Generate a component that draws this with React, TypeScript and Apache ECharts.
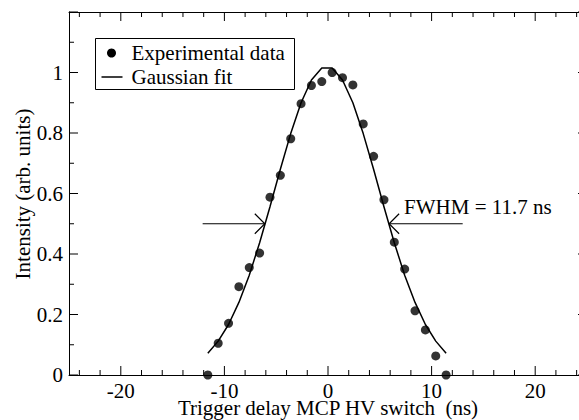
import { useEffect, useRef } from 'react';
import * as echarts from 'echarts';

// Measured pulse: trigger delay (ns) vs. normalised intensity
const delayNs = [
  -11.6, -10.6, -9.6, -8.6, -7.6, -6.6, -5.6, -4.6, -3.6, -2.6, -1.6, -0.6,
  0.4, 1.4, 2.4, 3.4, 4.4, 5.4, 6.4, 7.4, 8.4, 9.4, 10.4, 11.4,
];
const intensity = [
  0.0, 0.105, 0.171, 0.292, 0.355, 0.403, 0.588, 0.66, 0.781, 0.897, 0.957, 0.97,
  1.0, 0.983, 0.959, 0.83, 0.723, 0.579, 0.439, 0.35, 0.212, 0.149, 0.063, 0.0,
];
// Gaussian fit evaluated at the same delays
const fitIntensity = [
  0.072, 0.112, 0.167, 0.24, 0.33, 0.437, 0.556, 0.68, 0.798, 0.9, 0.975, 1.015,
  1.015, 0.975, 0.9, 0.798, 0.68, 0.556, 0.437, 0.33, 0.24, 0.167, 0.112, 0.072,
];

// Axis ranges and tick positions
const xRange = [-25, 25];
const yRange = [0, 1.2];
const xMajorTicks = [-20, -10, 0, 10, 20];
const xMinorTicks = [
  -24, -22, -18, -16, -14, -12, -8, -6, -4, -2, 2, 4, 6, 8, 12, 14, 16, 18, 22, 24,
];
const yMajorTicks = [0, 0.2, 0.4, 0.6, 0.8, 1, 1.2];
const yMinorTicks = [0.1, 0.3, 0.5, 0.7, 0.9, 1.1];
const yLabelledTicks = [0, 0.2, 0.4, 0.6, 0.8, 1];

// FWHM arrows: [shaft start, arrow tip] at half maximum
const halfMax = 0.5;
const fwhmArrows = [
  [-12.1, -6.1],
  [13.0, 5.9],
];
const fwhmLabel = 'FWHM = 11.7 ns';
const xTitle = 'Trigger delay MCP HV switch  (ns)';
const yTitle = 'Intensity (arb. units)';
const legendNames = ['Experimental data', 'Gaussian fit'];

const FONT = 'Liberation Serif';
const INK = '#000';

// tick kinds: 0 = x major, 1 = x minor, 2 = y major, 3 = y minor
const tickRows = [
  ...xMajorTicks.map((v) => [0, v]),
  ...xMinorTicks.map((v) => [1, v]),
  ...yMajorTicks.map((v) => [2, v]),
  ...yMinorTicks.map((v) => [3, v]),
];

export default function App() {
  const ref = useRef<HTMLDivElement>(null);

  useEffect(() => {
    if (!ref.current) return;
    const chart = echarts.init(ref.current, undefined, { renderer: 'svg' });

    const frameX = {
      type: 'value',
      min: xRange[0],
      max: xRange[1],
      splitLine: { show: false },
      axisTick: { show: false },
      axisLabel: { show: false },
      axisLine: { show: true, onZero: false, lineStyle: { color: INK, width: 1 } },
    };
    const frameY = {
      type: 'value',
      min: yRange[0],
      max: yRange[1],
      interval: 0.2,
      splitLine: { show: false },
      axisTick: { show: false },
      axisLabel: { show: false },
      axisLine: { show: true, onZero: false, lineStyle: { color: INK, width: 1 } },
    };

    const textStyle = (text: string, extra: any) => ({
      text,
      fontFamily: FONT,
      fontSize: 21,
      lineHeight: 18,
      fill: INK,
      ...extra,
    });

    chart.setOption({
      animation: false,
      textStyle: { fontFamily: FONT },
      grid: {
        left: 69,
        top: 12,
        width: 518,
        height: 363,
        outerBoundsMode: 'none',
      },
      graphic: [
        {
          type: 'text',
          x: 328,
          y: 408,
          style: textStyle(xTitle, { align: 'center', verticalAlign: 'middle' }),
        },
        {
          type: 'text',
          x: 23,
          y: 194,
          rotation: Math.PI / 2,
          style: textStyle(yTitle, { align: 'center', verticalAlign: 'middle' }),
        },
        {
          type: 'group',
          left: 95,
          top: 38,
          children: [
            {
              type: 'rect',
              shape: { x: 0, y: 0, width: 199, height: 51 },
              style: { fill: '#fff', stroke: INK, lineWidth: 1 },
            },
            {
              type: 'circle',
              shape: { cx: 16, cy: 14.5, r: 4.5 },
              style: { fill: INK },
            },
            {
              type: 'line',
              shape: { x1: 6, y1: 38.5, x2: 27, y2: 38.5 },
              style: { stroke: INK, lineWidth: 1.5 },
            },
            {
              type: 'text',
              x: 36,
              y: 14.5,
              style: textStyle(legendNames[0], { align: 'left', verticalAlign: 'middle' }),
            },
            {
              type: 'text',
              x: 36,
              y: 38.5,
              style: textStyle(legendNames[1], { align: 'left', verticalAlign: 'middle' }),
            },
          ],
        },
      ],
      xAxis: [
        { ...frameX, position: 'bottom' },
        { ...frameX, position: 'top' },
      ],
      yAxis: [
        { ...frameY, position: 'left' },
        { ...frameY, position: 'right' },
      ],
      series: [
        {
          name: legendNames[1],
          type: 'line',
          xAxisIndex: 0,
          yAxisIndex: 0,
          data: delayNs.map((x, i) => [x, fitIntensity[i]]),
          symbol: 'none',
          clip: false,
          lineStyle: { color: INK, width: 1.5 },
          itemStyle: { color: INK },
          z: 3,
        },
        {
          name: legendNames[0],
          type: 'scatter',
          xAxisIndex: 0,
          yAxisIndex: 0,
          data: delayNs.map((x, i) => [x, intensity[i]]),
          symbol: 'circle',
          symbolSize: 9,
          clip: false,
          itemStyle: { color: INK },
          z: 4,
        },
        {
          // inward ticks on all four sides, plus the numeric tick labels
          name: 'ticks',
          type: 'custom',
          xAxisIndex: 0,
          yAxisIndex: 0,
          clip: false,
          silent: true,
          encode: { x: -1, y: -1 },
          data: tickRows,
          renderItem: (params: any, api: any) => {
            const kind = api.value(0);
            const v = api.value(1);
            const line = { stroke: INK, lineWidth: 1 };
            const children: any[] = [];
            if (kind < 2) {
              const b = api.coord([v, yRange[0]]);
              const t = api.coord([v, yRange[1]]);
              const len = kind === 0 ? 9 : 5;
              children.push(
                { type: 'line', shape: { x1: b[0], y1: b[1], x2: b[0], y2: b[1] - len }, style: line },
                { type: 'line', shape: { x1: t[0], y1: t[1], x2: t[0], y2: t[1] + len }, style: line },
              );
              if (kind === 0) {
                children.push({
                  type: 'text',
                  x: b[0],
                  y: b[1] + 16,
                  style: textStyle(String(v), { align: 'center', verticalAlign: 'middle' }),
                });
              }
            } else {
              const l = api.coord([xRange[0], v]);
              const r = api.coord([xRange[1], v]);
              const len = kind === 2 ? 9 : 5;
              children.push(
                { type: 'line', shape: { x1: l[0], y1: l[1], x2: l[0] + len, y2: l[1] }, style: line },
                { type: 'line', shape: { x1: r[0], y1: r[1], x2: r[0] - len, y2: r[1] }, style: line },
              );
              if (kind === 2 && yLabelledTicks.indexOf(v) >= 0) {
                children.push({
                  type: 'text',
                  x: l[0] - 6,
                  y: l[1],
                  style: textStyle(String(v), { align: 'right', verticalAlign: 'middle' }),
                });
              }
            }
            return { type: 'group', children };
          },
          z: 6,
        },
        {
          name: 'FWHM',
          type: 'custom',
          xAxisIndex: 0,
          yAxisIndex: 0,
          clip: false,
          silent: true,
          encode: { x: [0, 1], y: 2 },
          data: fwhmArrows.map(([from, tip]) => [from, tip, halfMax]),
          renderItem: (params: any, api: any) => {
            const y = api.value(2);
            const p0 = api.coord([api.value(0), y]);
            const p1 = api.coord([api.value(1), y]);
            const dir = p1[0] > p0[0] ? 1 : -1;
            const head = 10;
            const stroke = { stroke: INK, lineWidth: 1.2, fill: 'none' };
            const children: any[] = [
              {
                type: 'line',
                shape: { x1: p0[0], y1: p0[1], x2: p1[0], y2: p1[1] },
                style: stroke,
              },
              {
                type: 'polyline',
                shape: {
                  points: [
                    [p1[0] - dir * head, p1[1] - head],
                    [p1[0], p1[1]],
                    [p1[0] - dir * head, p1[1] + head],
                  ],
                },
                style: stroke,
              },
            ];
            if (params.dataIndex === 1) {
              children.push({
                type: 'text',
                x: p1[0] + 15,
                y: p1[1] - 17,
                style: textStyle(fwhmLabel, { align: 'left', verticalAlign: 'middle' }),
              });
            }
            return { type: 'group', children };
          },
          z: 5,
        },
      ],
    });

    return () => chart.dispose();
  }, []);

  return (
    <div
      ref={ref}
      style={{ position: 'fixed', left: 0, top: 0, width: 579, height: 420, background: '#fff' }}
    />
  );
}
